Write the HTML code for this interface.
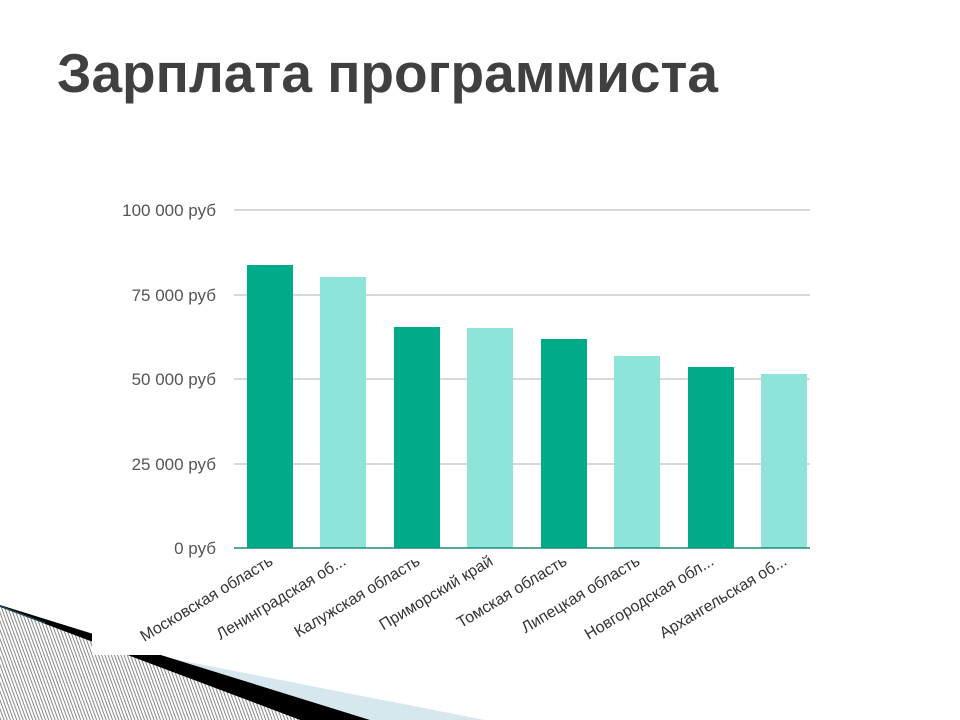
<!DOCTYPE html>
<html><head><meta charset="utf-8"><style>
body{margin:0;background:#fff;width:960px;height:720px;overflow:hidden}
</style></head><body>
<svg width="960" height="720" xmlns="http://www.w3.org/2000/svg" style="display:block">
<defs>
<pattern id="h" width="3" height="3" patternUnits="userSpaceOnUse" patternTransform="rotate(-20)">
<rect width="3" height="3" fill="#fff"/><rect width="1" height="3" fill="#888"/>
</pattern>
</defs>
<polygon points="0,625 485,720 370,720 0,606" fill="#d6e7ee"/>
<polygon points="0,605 370,720 300,720 0,607" fill="#000"/>
<polygon points="0,607 300,720 0,720" fill="url(#h)"/>
<line x1="0" y1="606" x2="45" y2="623" stroke="#1d5a66" stroke-width="1"/>
<rect x="92" y="120" width="868" height="535" fill="#fff"/>
<text x="57" y="92" font-family="Liberation Sans, sans-serif" font-weight="bold" font-size="55" fill="#404040">Зарплата программиста</text>
<g stroke="#cccccc" stroke-width="1.5">
<line x1="234" y1="210" x2="810" y2="210"/><line x1="234" y1="295" x2="810" y2="295"/>
<line x1="234" y1="379" x2="810" y2="379"/><line x1="234" y1="464" x2="810" y2="464"/>
</g>
<g font-family="Liberation Sans, sans-serif" font-size="17" fill="#555" text-anchor="end">
<text x="216" y="216">100 000 руб</text><text x="216" y="301">75 000 руб</text>
<text x="216" y="385">50 000 руб</text><text x="216" y="470">25 000 руб</text>
<text x="216" y="554">0 руб</text>
</g>
<g>
<rect x="247" y="265" width="46" height="283" fill="#00ab8a"/>
<rect x="320" y="277" width="46" height="271" fill="#8ee4d8"/>
<rect x="394" y="327" width="46" height="221" fill="#00ab8a"/>
<rect x="467" y="328" width="46" height="220" fill="#8ee4d8"/>
<rect x="541" y="339" width="46" height="209" fill="#00ab8a"/>
<rect x="614" y="356" width="46" height="192" fill="#8ee4d8"/>
<rect x="688" y="367" width="46" height="181" fill="#00ab8a"/>
<rect x="761" y="374" width="46" height="174" fill="#8ee4d8"/>
</g>
<line x1="234" y1="548" x2="810" y2="548" stroke="#1f8c7a" stroke-width="1.5"/>
<g font-family="Liberation Sans, sans-serif" font-size="16" fill="#333" text-anchor="end">
<text transform="translate(274,564) rotate(-31)">Московская область</text>
<text transform="translate(347,564) rotate(-31)">Ленинградская об...</text>
<text transform="translate(421,564) rotate(-31)">Калужская область</text>
<text transform="translate(494,564) rotate(-31)">Приморский край</text>
<text transform="translate(568,564) rotate(-31)">Томская область</text>
<text transform="translate(641,564) rotate(-31)">Липецкая область</text>
<text transform="translate(715,564) rotate(-31)">Новгородская обл...</text>
<text transform="translate(788,564) rotate(-31)">Архангельская об...</text>
</g>
</svg>
</body></html>
